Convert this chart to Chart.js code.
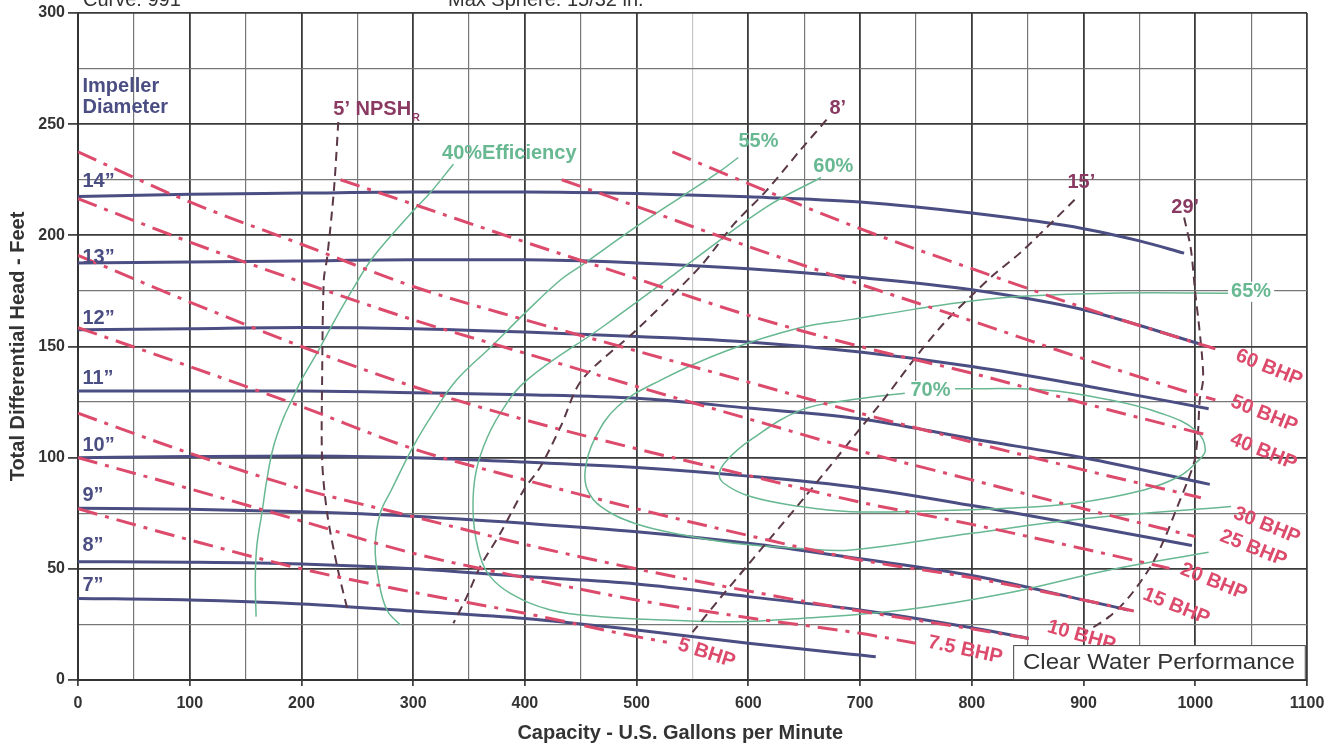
<!DOCTYPE html>
<html>
<head>
<meta charset="utf-8">
<script src="https://cdn.jsdelivr.net/npm/chart.js@4.4.1/dist/chart.umd.min.js"></script>
<style>
  html, body { margin: 0; padding: 0; background: #fff; }
</style>
</head>
<body>
<canvas id="pumpChart" width="1340" height="749"></canvas>
<script>
// impeller diameter curves [gpm, feet]
const dia14 = [[0,217.5],[100,218.5],[200,219],[300,219.5],[400,219.5],[500,218.8],[600,217.3],[700,215],[800,210],[900,203],[950,197.5],[990,192]];
const dia13 = [[0,187.5],[100,188],[200,188.5],[300,189],[400,189],[500,187.6],[600,185],[700,181],[800,175.5],[900,166.5],[1005,151]];
const dia12 = [[0,157.5],[100,158],[200,158.5],[300,158],[400,156.5],[500,154.5],[600,152],[700,147.5],[800,141],[900,132.5],[1012,122]];
const dia11 = [[0,130],[100,130],[200,130],[300,129.2],[400,128.3],[500,126.7],[600,122.3],[700,117.5],[800,108.5],[900,100],[1013,88]];
const dia10 = [[0,100],[100,100.5],[200,100.8],[300,100],[400,98],[500,95.6],[600,91.7],[700,86.5],[800,78.5],[900,69.5],[997,60.5]];
const dia9  = [[0,77.2],[100,76.8],[200,75.7],[300,73.7],[400,70.5],[500,66.7],[600,61.5],[700,54.5],[800,47],[900,36],[940,31.5]];
const dia8  = [[0,53.2],[100,53],[200,52.2],[300,50],[400,46.5],[500,43.2],[600,37.5],[700,31.5],[800,23.5],[851,18.7]];
const dia7  = [[0,36.7],[100,36],[200,34.2],[300,31],[400,27.7],[500,22.5],[600,16.5],[700,11.2],[714,10.5]];

// brake horsepower lines
const bhp60 = [[532,237.5],[600,223.3],[700,203],[800,185],[900,167.5],[1000,151.7],[1018,149]];
const bhp50 = [[433,225],[500,213],[600,195],[700,178],[800,161.5],[900,144.5],[1000,128.5],[1018,126]];
const bhp40 = [[235,225],[300,214],[400,197],[500,180.5],[600,164],[700,150],[800,138],[900,124.5],[1012,110]];
const bhp30 = [[0,237.5],[100,215],[200,196],[300,177],[400,162],[500,148],[600,134],[700,120],[800,107],[900,94.5],[1005,82]];
const bhp25 = [[0,216.5],[100,197],[200,179],[300,162],[400,147],[500,132],[600,117.5],[700,103],[800,90],[900,77],[1000,64.5]];
const bhp20 = [[0,191],[100,170],[200,150],[300,132],[400,117],[500,104],[600,92],[700,80],[800,70],[900,59],[977,50.2]];
const bhp15 = [[0,158.5],[100,141],[200,123],[300,104],[400,90],[500,77],[600,65],[700,54],[800,46],[900,36],[945,31]];
const bhp10 = [[0,120],[100,102],[200,86],[300,73.5],[400,61],[500,50],[600,40],[700,31],[800,23],[851,18.7]];
const bhp7_5 = [[0,100],[100,86],[200,71.5],[300,57],[400,46],[500,36],[600,28],[700,21],[750,16.5]];
const bhp5  = [[0,77],[100,63],[200,50],[300,39.5],[400,30],[500,19.5],[527,17]];

// efficiency contours
const eff40 = [[336,232],[315,219],[300,211],[277,198],[261,188],[245,175],[230,162],[215,148],[200,135],[191.5,126],[184,118],[175,105],[169,90],[164.6,75],[160,60],[158.7,45],[159.4,28.5]];
const eff55 = [[591,235],[575,229],[542,218],[500,204],[451,186.6],[432,180],[400,165],[370,150],[339,135],[318,120],[300,105],[280,85],[270.5,75],[266,60],[269,45],[276.5,31.5],[288.5,24.7]];
const eff60 = [[665,226],[617,213],[551,189],[527,180],[470,159],[402,135],[378,120],[363,105],[355,90],[354,72],[360,55.5],[369,46.5],[387,39],[423,31.5],[468,28.5],[527,27],[587,26.2],[647,27.7],[739,31.5],[831,39],[923,49.5],[1012,57.5]];
const eff65 = [[1030,174],[923,174],[849,172.7],[800,170.5],[748,166.7],[693,162.2],[647,158.5],[580,148],[522,135],[483,123],[462,108],[454,94.5],[456,85.5],[468,78],[498,70.5],[542,65.2],[587,61.5],[647,59.2],[692,58.5],[800,66],[900,72.5],[1032,78]];
const eff70 = [[740,129],[692,126],[647,121.4],[602,108],[581,99],[574,93],[578,88.5],[602,82.5],[647,78],[692,75.7],[760,76],[831,77.2],[892,79.5],[954,85.5],[985,91.4],[1000,97.4],[1009,103.4],[1000,112.4],[969,120],[923,126],[862,130.5],[785,131]];

// required NPSH lines
const npsh5  = [[233,251],[229,220],[223,190],[220,180],[218.5,135],[218.5,99],[223,75],[232,51],[242,30]];
const npsh8  = [[670,252],[646,238],[616,220],[587,205],[557,186],[500,157.5],[451,135],[432,114],[414,96],[399,85.5],[378,66],[360,51],[348,37.5],[336,25.5]];
const npsh15 = [[892,216],[874,207],[843,192],[819,182],[800,173],[776,161],[751,146],[724,128],[700,113],[650,82],[600,52],[575,37],[550,21.5]];
const npsh29 = [[990,208],[996,194],[1000,174],[1003,161],[1006,146],[1007,135],[1004,126],[1002.5,112],[999.5,99],[993.5,90],[984,78],[972,63],[960,51],[941,37.5],[923,28.5],[900,21]];

const NAVY = '#4b4e82';
const RED = '#dc4b6c';
const GREEN = '#68b892';
const MAROON = '#5b3847';
const LABEL_MAROON = '#8a3a62';
const FONT = "'Liberation Sans', Arial, sans-serif";

function pts(arr) { return arr.map(p => ({ x: p[0], y: p[1] })); }

const datasets = [];
[dia14, dia13, dia12, dia11, dia10, dia9, dia8, dia7].forEach(d => {
  datasets.push({ data: pts(d), borderColor: NAVY, borderWidth: 3, order: 4, cubicInterpolationMode: 'monotone' });
});
[eff40, eff55, eff60, eff65, eff70].forEach(d => {
  datasets.push({ data: pts(d), borderColor: GREEN, borderWidth: 1.5, order: 3, tension: 0.4 });
});
[npsh5, npsh8, npsh15, npsh29].forEach(d => {
  datasets.push({ data: pts(d), borderColor: MAROON, borderWidth: 2, borderDash: [9, 6], order: 2, tension: 0.3 });
});
[bhp60, bhp50, bhp40, bhp30, bhp25, bhp20, bhp15, bhp10, bhp7_5, bhp5].forEach(d => {
  datasets.push({ data: pts(d), borderColor: RED, borderWidth: 3, borderDash: [20, 8, 4, 8], order: 1, cubicInterpolationMode: 'monotone' });
});

// text on the plot, placed in data units
const plotLabels = [
  { t: 'Impeller', x: 4, y: 267, c: NAVY, f: 'bold 20px', a: 'left' },
  { t: 'Diameter', x: 4, y: 257.6, c: NAVY, f: 'bold 20px', a: 'left' },
  { t: '14\u201d', x: 4, y: 224.4, c: NAVY, f: 'bold 20px', a: 'left' },
  { t: '13\u201d', x: 4, y: 190.2, c: NAVY, f: 'bold 20px', a: 'left' },
  { t: '12\u201d', x: 4, y: 162.8, c: NAVY, f: 'bold 20px', a: 'left' },
  { t: '11\u201d', x: 4, y: 135.8, c: NAVY, f: 'bold 20px', a: 'left' },
  { t: '10\u201d', x: 4, y: 105.7, c: NAVY, f: 'bold 20px', a: 'left' },
  { t: '9\u201d', x: 4, y: 83.2, c: NAVY, f: 'bold 20px', a: 'left' },
  { t: '8\u201d', x: 4, y: 60.7, c: NAVY, f: 'bold 20px', a: 'left' },
  { t: '7\u201d', x: 4, y: 42.7, c: NAVY, f: 'bold 20px', a: 'left' },
  { t: '40%Efficiency', x: 386, y: 236.9, c: GREEN, f: 'bold 20px', a: 'center' },
  { t: '55%', x: 609, y: 242, c: GREEN, f: 'bold 20px', a: 'center' },
  { t: '60%', x: 676, y: 231, c: GREEN, f: 'bold 20px', a: 'center' },
  { t: '65%', x: 1050, y: 174.6, c: GREEN, f: 'bold 20px', a: 'center', bg: true },
  { t: '70%', x: 763, y: 130, c: GREEN, f: 'bold 20px', a: 'center', bg: true },
  { t: '8\u2019', x: 680, y: 257, c: LABEL_MAROON, f: 'bold 20px', a: 'center' },
  { t: '15\u2019', x: 898, y: 223.7, c: LABEL_MAROON, f: 'bold 20px', a: 'center' },
  { t: '29\u2019', x: 991, y: 212.4, c: LABEL_MAROON, f: 'bold 20px', a: 'center' },
  { t: '60 BHP', x: 1066, y: 140.3, c: RED, f: 'bold 20px', a: 'center', r: 22 },
  { t: '50 BHP', x: 1061.6, y: 119.6, c: RED, f: 'bold 20px', a: 'center', r: 22 },
  { t: '40 BHP', x: 1061, y: 102.7, c: RED, f: 'bold 20px', a: 'center', r: 22 },
  { t: '30 BHP', x: 1064, y: 69.4, c: RED, f: 'bold 20px', a: 'center', r: 22 },
  { t: '25 BHP', x: 1052, y: 59.2, c: RED, f: 'bold 20px', a: 'center', r: 22 },
  { t: '20 BHP', x: 1016.5, y: 44.2, c: RED, f: 'bold 20px', a: 'center', r: 22 },
  { t: '15 BHP', x: 983, y: 33, c: RED, f: 'bold 20px', a: 'center', r: 22 },
  { t: '10 BHP', x: 898, y: 19.8, c: RED, f: 'bold 20px', a: 'center', r: 16 },
  { t: '7.5 BHP', x: 794, y: 13.5, c: RED, f: 'bold 20px', a: 'center', r: 12 },
  { t: '5 BHP', x: 562.6, y: 12, c: RED, f: 'bold 20px', a: 'center', r: 18 }
];

const labelPlugin = {
  id: 'plotText',
  afterDatasetsDraw(chart) {
    const { ctx, chartArea, scales: { x, y } } = chart;
    ctx.save();
    ctx.textBaseline = 'middle';
    plotLabels.forEach(l => {
      const px = x.getPixelForValue(l.x), py = y.getPixelForValue(l.y);
      ctx.save();
      ctx.translate(px, py);
      if (l.r) ctx.rotate(l.r * Math.PI / 180);
      ctx.font = l.f + ' ' + FONT;
      ctx.textAlign = l.a;
      if (l.bg) {
        const w = ctx.measureText(l.t).width;
        ctx.fillStyle = '#fff';
        const left = l.a === 'center' ? -w / 2 : 0;
        ctx.fillRect(left - 3, -10, w + 6, 20);
      }
      ctx.fillStyle = l.c;
      ctx.fillText(l.t, 0, 0);
      ctx.restore();
    });

    // 5' NPSH with subscript R
    ctx.font = 'bold 20px ' + FONT;
    ctx.textAlign = 'left';
    ctx.fillStyle = LABEL_MAROON;
    const nx = x.getPixelForValue(228.5), ny = y.getPixelForValue(256.5);
    ctx.fillText('5\u2019 NPSH', nx, ny);
    const nw = ctx.measureText('5\u2019 NPSH').width;
    ctx.font = 'bold 11px ' + FONT;
    ctx.fillText('R', nx + nw + 1, ny + 8);

    // clear water box
    const bx0 = x.getPixelForValue(837), bx1 = x.getPixelForValue(1098);
    const by0 = y.getPixelForValue(15.7), by1 = chartArea.bottom - 1;
    ctx.fillStyle = '#fff';
    ctx.fillRect(bx0, by0, bx1 - bx0, by1 - by0);
    ctx.strokeStyle = '#444';
    ctx.lineWidth = 1;
    ctx.strokeRect(bx0 + 0.5, by0 + 0.5, bx1 - bx0, by1 - by0);
    ctx.fillStyle = '#333';
    ctx.font = '22px ' + FONT;
    ctx.textAlign = 'center';
    const cw = 'Clear Water Performance';
    const mw = ctx.measureText(cw).width;
    ctx.save();
    ctx.translate((bx0 + bx1) / 2, (by0 + by1) / 2 + 1);
    ctx.scale(272 / mw, 1);
    ctx.fillText(cw, 0, 0);
    ctx.restore();

    // x axis title, sits a little left of the plot centre in the original
    ctx.font = 'bold 20px ' + FONT;
    ctx.fillStyle = '#333';
    ctx.textAlign = 'center';
    ctx.fillText('Capacity - U.S. Gallons per Minute', x.getPixelForValue(539), chartArea.bottom + 53);

    // header text, cut at the top edge
    ctx.font = '20px ' + FONT;
    ctx.textAlign = 'left';
    ctx.textBaseline = 'alphabetic';
    ctx.fillText('Curve: 991', chartArea.left + 5, 6);
    ctx.fillText('Max Sphere: 15/32 in.', chartArea.left + 370, 6);
    ctx.restore();
  }
};

const majorX = v => v % 100 === 0;
const majorY = v => v % 50 === 0;

new Chart(document.getElementById('pumpChart'), {
  type: 'line',
  data: { datasets },
  options: {
    responsive: false,
    animation: false,
    events: [],
    elements: { point: { radius: 0 }, line: { fill: false, borderCapStyle: 'butt' } },
    layout: { padding: { top: 13, right: 33, left: 0, bottom: 0 } },
    plugins: { legend: { display: false }, tooltip: { enabled: false } },
    scales: {
      x: {
        type: 'linear', min: 0, max: 1100,
        afterFit: s => { s.height = 69; },
        ticks: {
          stepSize: 50, autoSkip: false, maxRotation: 0, padding: 8,
          color: '#333', font: { family: FONT, size: 16, weight: 'bold' },
          callback: v => majorX(v) ? v : ''
        },
        grid: {
          color: c => c.tick && c.tick.value === 550 ? '#c8c8c8' : (majorX(c.tick ? c.tick.value : 0) ? '#3a3a3a' : '#777'),
          lineWidth: c => majorX(c.tick ? c.tick.value : 0) ? 1.8 : 1.2,
          tickLength: 6,
          tickColor: c => majorX(c.tick ? c.tick.value : 0) ? '#444' : 'rgba(0,0,0,0)'
        },
        border: { color: '#333', width: 2 },
        title: { display: false }
      },
      y: {
        type: 'linear', min: 0, max: 300,
        afterFit: s => { s.width = 78; },
        ticks: {
          stepSize: 25, autoSkip: false, padding: 3,
          color: '#333', font: { family: FONT, size: 16, weight: 'bold' },
          callback: v => majorY(v) ? v : ''
        },
        grid: {
          color: c => majorY(c.tick ? c.tick.value : 0) ? '#3a3a3a' : '#777',
          lineWidth: c => majorY(c.tick ? c.tick.value : 0) ? 1.8 : 1.2,
          tickLength: 10,
          tickColor: c => majorY(c.tick ? c.tick.value : 0) ? '#444' : 'rgba(0,0,0,0)'
        },
        border: { color: '#333', width: 2 },
        title: {
          display: true, text: 'Total Differential Head - Feet', color: '#333',
          font: { family: FONT, size: 20, weight: 'bold' }, padding: { top: 6, bottom: 2 }
        }
      }
    }
  },
  plugins: [labelPlugin]
});
</script>
</body>
</html>
